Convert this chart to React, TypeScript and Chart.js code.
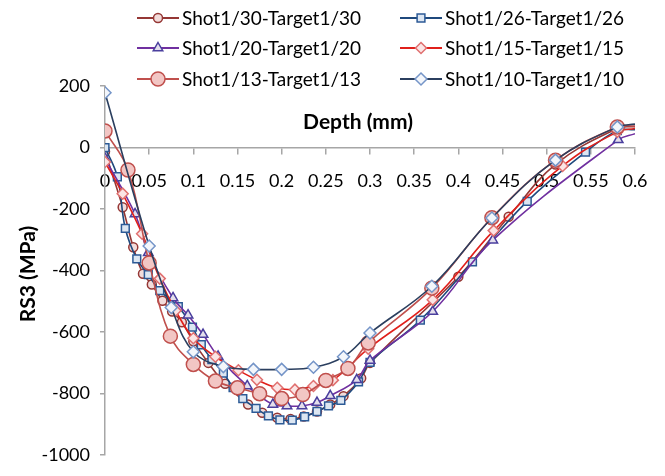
import React, { useEffect, useRef } from 'react';
import { Chart, registerables } from 'chart.js';

Chart.register(...registerables);

// ---- data ----
const seriesNames = [
  'Shot1/30-Target1/30',
  'Shot1/26-Target1/26',
  'Shot1/20-Target1/20',
  'Shot1/15-Target1/15',
  'Shot1/13-Target1/13',
  'Shot1/10-Target1/10',
];

const xTickValues = [0, 0.05, 0.1, 0.15, 0.2, 0.25, 0.3, 0.35, 0.4, 0.45, 0.5, 0.55, 0.6];
const yTickValues = [-1000, -800, -600, -400, -200, 0, 200];

const depth30 = [0, 0.02, 0.032, 0.043, 0.053, 0.065, 0.076, 0.087, 0.1, 0.117, 0.136, 0.162, 0.178, 0.195, 0.21, 0.225, 0.24, 0.255, 0.27, 0.29, 0.3, 0.4, 0.457, 0.51, 0.58, 0.6];
const rs30 = [-13, -194, -324, -410, -445, -498, -533, -568, -630, -700, -768, -835, -862, -878, -882, -874, -858, -835, -808, -750, -700, -420, -225, -55, 62, 68];

const depth26 = [0, 0.014, 0.023, 0.036, 0.049, 0.062, 0.083, 0.099, 0.109, 0.121, 0.134, 0.145, 0.156, 0.171, 0.185, 0.198, 0.212, 0.226, 0.24, 0.253, 0.267, 0.287, 0.3, 0.357, 0.416, 0.478, 0.544, 0.58, 0.6];
const rs26 = [0, -95, -263, -362, -413, -465, -517, -584, -641, -689, -733, -780, -816, -848, -872, -885, -886, -875, -858, -840, -822, -762, -698, -561, -372, -175, -15, 55, 58];

const depth20 = [0, 0.034, 0.049, 0.077, 0.094, 0.111, 0.128, 0.161, 0.19, 0.206, 0.223, 0.24, 0.255, 0.285, 0.3, 0.371, 0.439, 0.581, 0.6];
const rs20 = [-35, -216, -342, -489, -545, -608, -679, -775, -835, -840, -840, -829, -807, -755, -692, -533, -301, 25, 45];

const depth15 = [0, 0.02, 0.042, 0.062, 0.08, 0.1, 0.125, 0.151, 0.172, 0.195, 0.215, 0.236, 0.258, 0.298, 0.371, 0.44, 0.518, 0.58, 0.6];
const rs15 = [-47, -150, -280, -426, -530, -620, -680, -724, -755, -781, -787, -775, -756, -654, -495, -270, -60, 51, 62];

const depth13 = [0, 0.026, 0.05, 0.074, 0.1, 0.125, 0.15, 0.175, 0.2, 0.224, 0.25, 0.275, 0.298, 0.37, 0.438, 0.51, 0.58, 0.6];
const rs13 = [54, -73, -375, -613, -705, -759, -781, -800, -816, -803, -757, -718, -635, -457, -228, -41, 67, 70];

const depth10 = [0, 0.05, 0.075, 0.1, 0.134, 0.168, 0.2, 0.236, 0.27, 0.3, 0.37, 0.438, 0.51, 0.58, 0.6];
const rs10 = [178, -320, -520, -664, -712, -721, -721, -714, -680, -603, -451, -229, -41, 67, 76];

// ---- styles ----
const FONT = 'Lato, "DejaVu Sans", sans-serif';
const seriesStyle = [
  { line: '#953735', stroke: '#953735', fill: '#F2DCDB', shape: 'circle', r: 4.5 },
  { line: '#1F497D', stroke: '#2C5A96', fill: '#DCE6F2', shape: 'rect', r: 5.5 },
  { line: '#7030A0', stroke: '#4A3F9E', fill: '#E4DFEC', shape: 'triangle', r: 5.5 },
  { line: '#E0201B', stroke: '#E07070', fill: '#FBE5E5', shape: 'rectRot', r: 5.5 },
  { line: '#C0504D', stroke: '#C0504D', fill: '#F2C6C4', shape: 'circle', r: 7 },
  { line: '#2B3F5F', stroke: '#7595C8', fill: '#F3F6FB', shape: 'rectRot', r: 6 },
];
const depthArrays = [depth30, depth26, depth20, depth15, depth13, depth10];
const rsArrays = [rs30, rs26, rs20, rs15, rs13, rs10];

function drawMarker(ctx: CanvasRenderingContext2D, shape: string, x: number, y: number, r: number) {
  ctx.beginPath();
  if (shape === 'circle') {
    ctx.arc(x, y, r, 0, Math.PI * 2);
  } else if (shape === 'rect') {
    const s = r * Math.SQRT1_2;
    ctx.rect(x - s, y - s, 2 * s, 2 * s);
  } else if (shape === 'rectRot') {
    ctx.moveTo(x, y - r);
    ctx.lineTo(x + r, y);
    ctx.lineTo(x, y + r);
    ctx.lineTo(x - r, y);
    ctx.closePath();
  } else if (shape === 'triangle') {
    ctx.moveTo(x, y - r);
    ctx.lineTo(x + 0.866 * r, y + 0.5 * r);
    ctx.lineTo(x - 0.866 * r, y + 0.5 * r);
    ctx.closePath();
  }
  ctx.fill();
  ctx.stroke();
}

const legendCols = [137, 400];
const legendRows = [18, 48, 79];

const overlayPlugin = {
  id: 'overlay',
  afterDraw(chart: any) {
    const ctx: CanvasRenderingContext2D = chart.ctx;
    ctx.save();
    // legend
    seriesNames.forEach((name, i) => {
      const st = seriesStyle[i];
      const x0 = legendCols[i % 2];
      const y = legendRows[Math.floor(i / 2)];
      ctx.strokeStyle = st.line;
      ctx.lineWidth = 2;
      ctx.beginPath();
      ctx.moveTo(x0, y);
      ctx.lineTo(x0 + 42, y);
      ctx.stroke();
      ctx.fillStyle = st.fill;
      ctx.strokeStyle = st.stroke;
      ctx.lineWidth = 1.5;
      drawMarker(ctx, st.shape, x0 + 21, y, st.r);
      ctx.fillStyle = '#000';
      ctx.font = '19px ' + FONT;
      ctx.textAlign = 'left';
      ctx.textBaseline = 'middle';
      ctx.fillText(name, x0 + 45, y + 1);
    });
    // axis titles
    ctx.fillStyle = '#000';
    ctx.font = 'bold 21px ' + FONT;
    ctx.textAlign = 'center';
    ctx.textBaseline = 'middle';
    ctx.fillText('Depth (mm)', 358, 122);
    ctx.translate(28, 274);
    ctx.rotate(-Math.PI / 2);
    ctx.fillText('RS3 (MPa)', 0, 0);
    ctx.restore();
  },
};

export default function App() {
  const ref = useRef<HTMLCanvasElement | null>(null);
  useEffect(() => {
    if (!ref.current) return;
    const datasets = seriesNames.map((name, i) => {
      const st = seriesStyle[i];
      const xs = depthArrays[i];
      const ys = rsArrays[i];
      const last = xs.length - 1;
      return {
        label: name,
        data: xs.map((x, k) => ({ x, y: ys[k] })),
        borderColor: st.line,
        borderWidth: 1.6,
        backgroundColor: st.fill,
        pointStyle: st.shape,
        pointRadius: (c: any) => (c.dataIndex === last && xs[last] >= 0.6 ? 0 : st.r),
        pointBorderColor: st.stroke,
        pointBackgroundColor: st.fill,
        pointBorderWidth: 1.5,
        tension: 0.4,
        fill: false,
        order: 5 - i,
      };
    });
    const chart = new Chart(ref.current, {
      type: 'line',
      data: { datasets },
      plugins: [overlayPlugin],
      options: {
        responsive: false,
        animation: false,
        layout: { padding: { top: 86, right: 30, bottom: 13, left: 0 } },
        plugins: { legend: { display: false }, tooltip: { enabled: false } },
        scales: {
          x: {
            type: 'linear',
            min: 0,
            max: 0.6,
            position: { y: 0 } as any,
            afterBuildTicks: (s: any) => {
              s.ticks = xTickValues.map((v) => ({ value: v }));
            },
            ticks: {
              color: '#000',
              font: { family: FONT, size: 18 },
              padding: 17,
              maxRotation: 0,
              autoSkip: false,
              callback: (v: any) => String(Math.round(Number(v) * 100) / 100),
            },
            grid: { drawOnChartArea: false, drawTicks: true, tickLength: 6, color: '#A6A6A6', lineWidth: 1.5 },
            border: { display: true, color: '#A6A6A6', width: 1.5 },
          },
          y: {
            type: 'linear',
            min: -1000,
            max: 200,
            position: 'left',
            afterBuildTicks: (s: any) => {
              s.ticks = yTickValues.map((v) => ({ value: v }));
            },
            afterFit: (s: any) => {
              s.width = 105;
            },
            ticks: {
              color: '#000',
              font: { family: FONT, size: 18 },
              padding: 10,
              callback: (v: any) => String(v),
            },
            grid: { drawOnChartArea: false, drawTicks: true, tickLength: 5, color: '#A6A6A6', lineWidth: 1.5 },
            border: { display: true, color: '#A6A6A6', width: 1.5 },
          },
        },
      },
    });
    return () => chart.destroy();
  }, []);
  return (
    <div style={{ position: 'fixed', left: 0, top: 0, width: 665, height: 476, background: '#fff' }}>
      <canvas ref={ref} width={665} height={476} style={{ display: 'block' }} />
    </div>
  );
}
